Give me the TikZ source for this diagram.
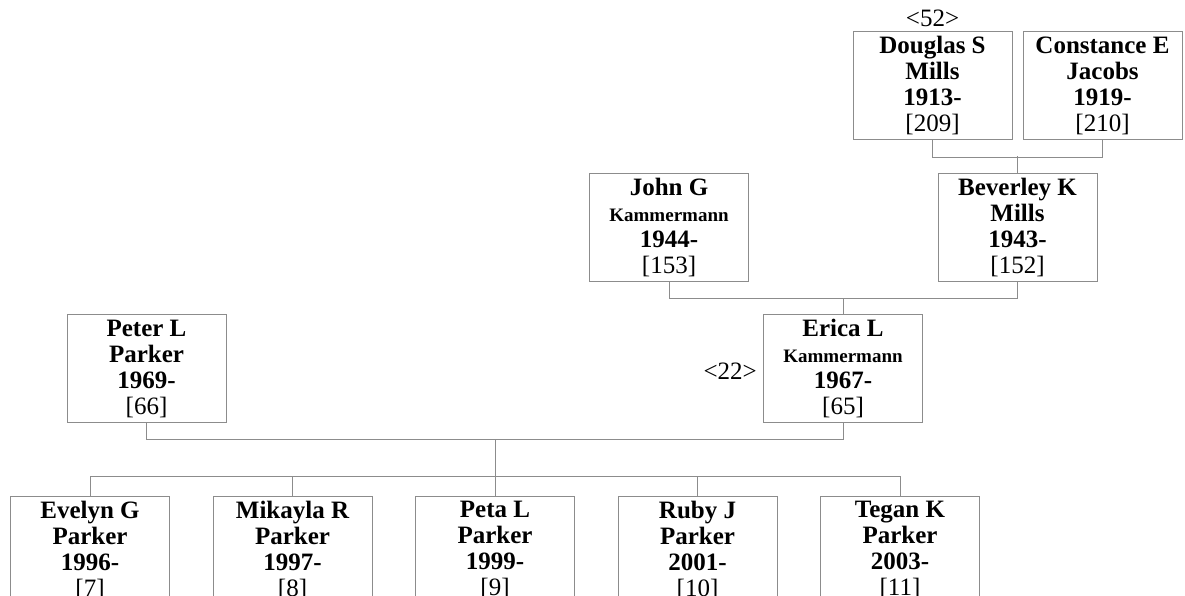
\documentclass[tikz,border=0pt]{standalone}
\usepackage{fontspec}
\setmainfont{Liberation Serif}
\definecolor{ln}{RGB}{140,140,140}
\newcommand{\kname}{{\fontsize{19}{26}\selectfont Kammermann}}
\newcommand{\byear}[1]{#1-\hspace*{9pt}}
\newcommand{\pidx}[1]{{\mdseries[#1]}}
\begin{document}
\begin{tikzpicture}[
	x=1pt,
	y=-1pt,
	font=\fontsize{25}{26}\selectfont\bfseries,
	pp/.style={draw=ln,line width=1pt,minimum width=159pt,minimum height=108pt,inner sep=0pt,align=center},
	tag/.style={font=\fontsize{25}{26}\selectfont,inner sep=0pt},
	cn/.style={draw=ln,line width=1pt},
	]
\useasboundingbox (0,0) rectangle (1185,595);
\node [pp] (dsm) at (932.5,85.5) {Douglas S\\Mills\\\byear{1913}\\\pidx{209}};
\node [tag,anchor=south,yshift=4pt] (dsmtag) at (dsm.north) {\textless52\textgreater};
\node [pp] (cej) at (1102.5,85.5) {Constance E\\Jacobs\\\byear{1919}\\\pidx{210}};
\node [pp] (jgk) at (669,227.5) {John G\\\kname\\\byear{1944}\\\pidx{153}};
\node [pp] (bkm) at (1017.5,227.5) {Beverley K\\Mills\\\byear{1943}\\\pidx{152}};
\node [pp] (plp) at (146.5,368.5) {Peter L\\Parker\\\byear{1969}\\\pidx{66}};
\node [pp] (elk) at (843,368.5) {Erica L\\\kname\\\byear{1967}\\\pidx{65}};
\node [tag,anchor=east,xshift=-6pt,yshift=-3pt] (elktag) at (elk.west) {\textless22\textgreater};
\node [pp] (egp) at (90,550) {Evelyn G\\Parker\\\byear{1996}\\\pidx{7}};
\node [pp] (mrp) at (292.5,550) {Mikayla R\\Parker\\\byear{1997}\\\pidx{8}};
\node [pp] (ptp) at (495,550) {Peta L\\Parker\\\byear{1999}\\\pidx{9}};
\node [pp] (rjp) at (697.5,550) {Ruby J\\Parker\\\byear{2001}\\\pidx{10}};
\node [pp] (tkp) at (900,550) {Tegan K\\Parker\\\byear{2003}\\\pidx{11}};
\draw [cn] (dsm.south) -- ++(0,17) -| (cej.south);
\draw [cn] (bkm.north) -- ++(0,-17);
\draw [cn] (jgk.south) -- ++(0,16.5) -| (bkm.south);
\draw [cn] (elk.north) -- ++(0,-16.5);
\draw [cn] (plp.south) -- ++(0,16.5) -| (elk.south);
\draw [cn] (egp.north) -- ++(0,-19) -| (tkp.north);
\foreach \c in {mrp,ptp,rjp}
	\draw [cn] (\c.north) -- ++(0,-19);
\draw [cn] (ptp.north) ++(0,-19) -- ++(0,-38);
\end{tikzpicture}
\end{document}
